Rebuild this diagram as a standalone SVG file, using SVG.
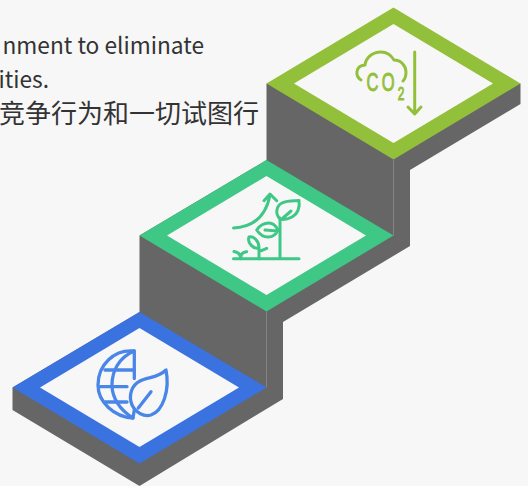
<svg xmlns="http://www.w3.org/2000/svg" width="528" height="486" viewBox="0 0 528 486">
<style>
.t{font-family:"Noto Sans CJK SC","Noto Sans",sans-serif;fill:#333;text-anchor:end}
.side{fill:#666}
.seam{stroke:#999;stroke-width:.6;fill:none}
.inner{fill:#f7f7f7}
.ic{fill:none;stroke-width:3;stroke-linecap:round;stroke-linejoin:round}
.co{font-family:"Liberation Sans",sans-serif;fill:#93c03a;stroke:#93c03a;stroke-width:1;letter-spacing:5px}
</style>
<rect width="528" height="486" fill="#f7f7f7"/>
<g id="caption">
<text class="t" x="204" y="54" font-size="22.700">nment to eliminate</text>
<text class="t" x="49" y="88" font-size="22.700">ities.</text>
<text class="t" x="259" y="123" font-size="26">竞争行为和一切试图行</text>
</g>
<g id="base">
<polygon class="side" points="266.5,83.5 266.5,160 139.5,235.5 139.5,312 12.5,387.5 12.5,410 139.5,486 283,399 283,322 410,246 410,170 520.5,104 520.5,83.5 393.5,83.5"/>
<path class="seam" d="M393.5 159.5V235.5M266.5 311.5V387.5"/>
</g>
<g id="step-3">
<polygon fill="#93c03a" points="393.5,7.5 520.5,83.5 393.5,159.5 266.5,83.5"/>
<polygon class="inner" points="393.5,24 493,83.5 393.5,143 294,83.5"/>
<g class="ic" stroke="#93c03a">
<path d="M414.7 52V113M408 107L414.700 114L421 107"/>
<path d="M361 80C355 76 355 66 365 65C366 57 373 52 381 52C387 52 391 55 394 60C401 60 406 66 406 72C406 76 405 79 403 81"/>
</g>
<text class="co" transform="translate(366.500 91) scale(.66 1)" font-size="25">CO<tspan font-size="18" dy="8.500">2</tspan></text>
</g>
<g id="step-2">
<polygon fill="#3fc786" points="266.5,160 393.5,235.5 266.5,311.5 139.5,235.5"/>
<polygon class="inner" points="266.5,176 366,235.5 266.5,295 167,235.5"/>
<g class="ic" stroke="#3fc786">
<path d="M233.500 258.700H299M280 258.700V218"/>
<path d="M280 219C275 214 276 206 282 203C288 200 295 201 299 200.500C300 207 298 214 292 217C288 219 284 220 280 219ZM283 218L291 211"/>
<path d="M256.700 230C260 225 265 223 269 223C273 223 276 226 278 230C276 235 272 237 268 237C264 237 260 235 256.700 230ZM265 230L278 231"/>
<path d="M249 237C254 236 259 241 259 248C253 249 247 243 249 237ZM259 248V258.700M259 251.700L266.700 248.300"/>
<path d="M234 251.500C238 252 240.700 254 240.700 258.700M240.700 258C240.700 254 243 252 246.700 251.700"/>
<path d="M233.500 228C253 227 266 216 270 195M264 200.700L270 194L276.700 200.700"/>
</g>
</g>
<g id="step-1">
<polygon fill="#3a72e0" points="139.500,312 266.500,387.500 139.500,463.500 12.500,387.500"/>
<polygon class="inner" points="139.500,328 239,387.500 139.500,447 40,387.500"/>
<g class="ic" stroke="#4a86e8" style="stroke-width:3.300">
<path d="M134.300 378.500V351C114 349 98 365 98 385C98 402 114 417 133 418L134.300 410"/>
<path d="M134 351C118 358 112 372 112 385C112 398 120 410 133 418"/>
<path d="M105 370H134M100 386.700H127M105 402H127"/>
<path d="M166 370C158 378 147 377 140 381C132 385 128 395 132 405C136 413 144 417 151 415C163 411 170 390 166 370ZM138.300 408L151 391.700"/>
</g>
</g>
</svg>
